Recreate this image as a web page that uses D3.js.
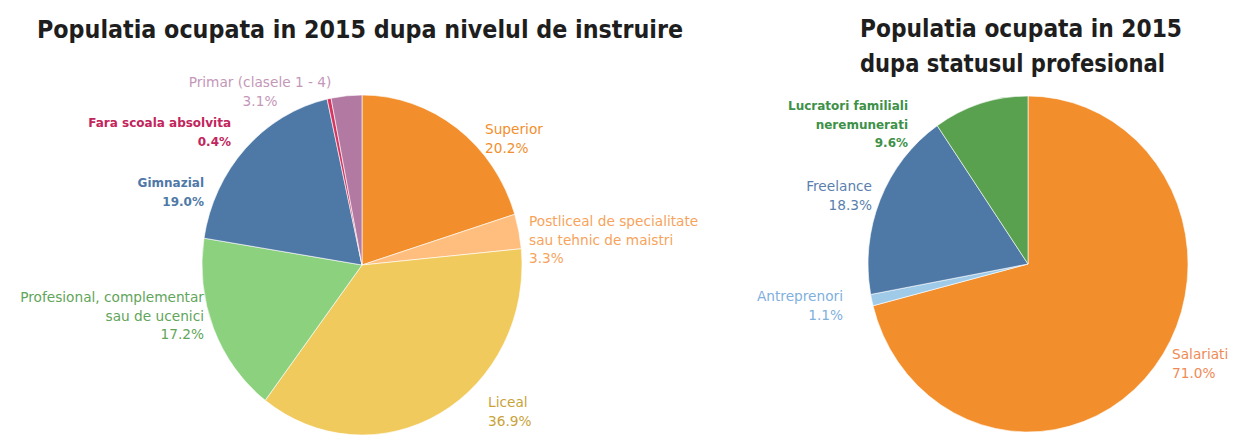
<!DOCTYPE html>
<html>
<head>
<meta charset="utf-8">
<script src="https://cdn.jsdelivr.net/npm/d3@7"></script>
<style>
  html, body { margin: 0; padding: 0; background: #ffffff; }
  svg { display: block; }
</style>
</head>
<body>
<svg id="chart" width="1234" height="435"></svg>
<script>
// ---------- DATA ----------
const eduTitle = "Populatia ocupata in 2015 dupa nivelul de instruire";
const eduCategories = ["Superior", "Postliceal de specialitate sau tehnic de maistri", "Liceal",
  "Profesional, complementar sau de ucenici", "Gimnazial", "Fara scoala absolvita", "Primar (clasele 1 - 4)"];
const eduValues = [20.2, 3.3, 36.9, 17.2, 19.0, 0.4, 3.1];
const eduLabelLines = [["Superior"], ["Postliceal de specialitate", "sau tehnic de maistri"], ["Liceal"],
  ["Profesional, complementar", "sau de ucenici"], ["Gimnazial"], ["Fara scoala absolvita"], ["Primar (clasele 1 - 4)"]];

const statTitleLines = ["Populatia ocupata in 2015", "dupa statusul profesional"];
const statCategories = ["Salariati", "Antreprenori", "Freelance", "Lucratori familiali neremunerati"];
const statValues = [71.0, 1.1, 18.3, 9.6];
const statLabelLines = [["Salariati"], ["Antreprenori"], ["Freelance"], ["Lucratori familiali", "neremunerati"]];

// ---------- STYLE / LAYOUT ----------
const eduColors = ["#f28e2b", "#ffbe7d", "#f1ca5e", "#8cd17d", "#4e79a7", "#d7355f", "#b279a2"];
const eduLabelColors = ["#f28e2b", "#f7a35c", "#c9a33a", "#5fa55a", "#4e79a7", "#c2255c", "#c497b8"];
const eduLabelBold = [false, false, false, false, true, true, false];
const eduLabelPos = [
  {x: 485, y: 134, a: "start"},
  {x: 529, y: 226, a: "start"},
  {x: 488, y: 407, a: "start"},
  {x: 204, y: 302, a: "end"},
  {x: 204, y: 187, a: "end"},
  {x: 231, y: 127, a: "end"},
  {x: 260, y: 87, a: "middle"}
];
const statColors = ["#f28e2b", "#a0cbe8", "#4e79a7", "#59a14f"];
const statLabelColors = ["#f08a55", "#7fb0de", "#5a7fae", "#3d9148"];
const statLabelBold = [false, false, false, true];
const statLabelPos = [
  {x: 1172, y: 359, a: "start"},
  {x: 843, y: 301, a: "end"},
  {x: 872, y: 191, a: "end"},
  {x: 908, y: 110, a: "end"}
];

const svg = d3.select("#chart");
const labelFont = "'DejaVu Sans', Verdana, sans-serif";
const titleFont = "'DejaVu Sans Condensed', 'DejaVu Sans', sans-serif";

function fitText(sel, width) {
  sel.each(function () {
    const w = this.getComputedTextLength();
    if (w > 0) {
      d3.select(this).attr("textLength", width).attr("lengthAdjust", "spacingAndGlyphs");
    }
  });
}

// ---------- TITLES ----------
svg.append("text")
  .attr("x", 37).attr("y", 38)
  .attr("font-family", titleFont).attr("font-weight", "bold").attr("font-size", 25)
  .attr("fill", "#1e1e1e")
  .text(eduTitle)
  .call(fitText, 646);

statTitleLines.forEach((t, i) => {
  svg.append("text")
    .attr("x", 860).attr("y", 37 + i * 35)
    .attr("font-family", titleFont).attr("font-weight", "bold").attr("font-size", 25)
    .attr("fill", "#1e1e1e")
    .text(t)
    .call(fitText, i === 0 ? 322 : 305);
});

// ---------- PIE DRAWING ----------
function drawPie(cfg) {
  const pie = d3.pie().sort(null).value(d => d.value);
  const arc = d3.arc().innerRadius(0).outerRadius(cfg.r);
  const data = cfg.categories.map((c, i) => ({cat: c, value: cfg.values[i], i}));
  const g = svg.append("g")
    .attr("transform", `translate(${cfg.cx},${cfg.cy}) scale(1,${cfg.ry / cfg.r})`);
  g.selectAll("path").data(pie(data)).enter().append("path")
    .attr("d", arc)
    .attr("fill", d => cfg.colors[d.data.i])
    .attr("stroke", "#ffffff")
    .attr("stroke-width", 0.6);

  const lg = svg.append("g");
  data.forEach((d, i) => {
    const p = cfg.labelPos[i];
    const lines = cfg.labelLines[i].concat([d3.format(".1f")(d.value) + "%"]);
    const t = lg.append("text")
      .attr("x", p.x).attr("y", p.y)
      .attr("text-anchor", p.a)
      .attr("font-family", labelFont)
      .attr("font-size", cfg.bold[i] ? 12 : 13.7)
      .attr("font-weight", cfg.bold[i] ? "bold" : "normal")
      .attr("fill", cfg.labelColors[i]);
    lines.forEach((ln, k) => {
      t.append("tspan").attr("x", p.x).attr("dy", k === 0 ? 0 : 18.5).text(ln);
    });
  });
}

drawPie({cx: 362, cy: 265, r: 160, ry: 170,
  categories: eduCategories, values: eduValues, colors: eduColors,
  labelColors: eduLabelColors, labelLines: eduLabelLines, labelPos: eduLabelPos, bold: eduLabelBold});

drawPie({cx: 1028, cy: 264, r: 160, ry: 168,
  categories: statCategories, values: statValues, colors: statColors,
  labelColors: statLabelColors, labelLines: statLabelLines, labelPos: statLabelPos, bold: statLabelBold});
</script>
</body>
</html>
